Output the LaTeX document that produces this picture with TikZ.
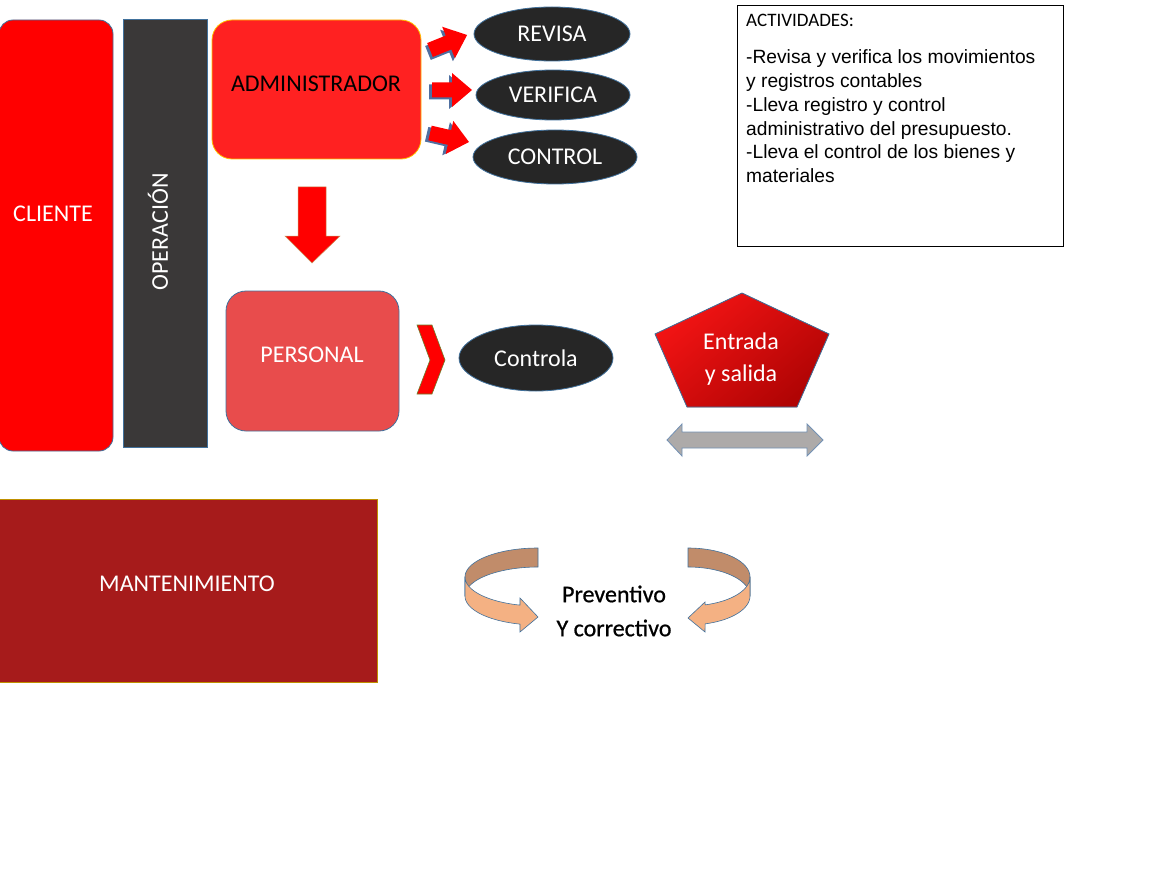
\documentclass[tikz,border=0pt]{standalone}
\usepackage{fontspec}
\setmainfont{Carlito}
\newfontfamily\arialf{Liberation Sans}
\newfontfamily\shadowf[FakeBold=0.8]{Carlito}
\usetikzlibrary{shapes.geometric}
\definecolor{pured}{HTML}{FF0000}
\definecolor{opgray}{HTML}{3A3838}
\definecolor{adminred}{HTML}{FF2121}
\definecolor{adminedge}{HTML}{FFC000}
\definecolor{ellfill}{HTML}{262626}
\definecolor{edgeblue}{HTML}{41719C}
\definecolor{persred}{HTML}{E84C4C}
\definecolor{maroon}{HTML}{A61B1B}
\definecolor{mantedge}{HTML}{BF9000}
\definecolor{arrowgray}{HTML}{ADAAA9}
\definecolor{grayedge}{HTML}{7391B5}
\definecolor{darkband}{HTML}{C18C6A}
\definecolor{lightband}{HTML}{F4B183}
\definecolor{penttop}{HTML}{F41414}
\definecolor{pentbot}{HTML}{B00404}
\definecolor{shadowblue}{HTML}{4F6FA0}
\definecolor{chevedge}{HTML}{6B7F2A}
\definecolor{downedge}{HTML}{C8905A}
\begin{document}
\begin{tikzpicture}[x=1pt,y=-1pt,
  txt/.style={font=\fontsize{24}{29}\selectfont, inner sep=0pt},
  wtxt/.style={txt, text=white},
  boxnode/.style={inner sep=0pt, line width=0.8pt},
  ellnode/.style={ellipse, draw=edgeblue, fill=ellfill, line width=0.8pt, inner sep=0pt, text=white, font=\fontsize{24}{29}\selectfont},
  smallarrow/.pic={
    \fill[shadowblue] (-3,-5.5)--(17,-5.5)--(17,-15)--(37,2)--(17,19)--(17,9.5)--(-3,9.5)--cycle;
    \fill[pured] (0,-7.5)--(20,-7.5)--(20,-17)--(40,0)--(20,17)--(20,7.5)--(0,7.5)--cycle;
  }]
\useasboundingbox (0,0) rectangle (1161,896);
\fill[white] (0,0) rectangle (1161,896);

% CLIENTE
\node[boxnode, draw=edgeblue, fill=pured, rounded corners=14pt, minimum width=114pt, minimum height=431pt] (cliente) at (56,235.5) {};
\node[wtxt] (clientet) at (53,214) {CLIENTE};

% OPERACION
\node[boxnode, draw=edgeblue, fill=opgray, minimum width=84pt, minimum height=428pt] (operacion) at (165,233) {};
\node[wtxt, rotate=90] (operaciont) at (158,232) {OPERACIÓN};

% ADMINISTRADOR
\node[boxnode, draw=adminedge, fill=adminred, rounded corners=20pt, minimum width=209pt, minimum height=139pt] (admin) at (316.5,89.5) {};
\node[txt] (admint) at (316,84) {ADMINISTRADOR};

% small arrows
\pic[rotate=22] at (430,50) {smallarrow};
\pic at (432,90) {smallarrow};
\pic[rotate=-13] at (430,133) {smallarrow};

% ellipses
\node[ellnode, minimum width=156pt, minimum height=54pt] (revisa) at (552,34) {REVISA};
\node[ellnode, minimum width=154pt, minimum height=50pt] (verifica) at (553,95) {VERIFICA};
\node[ellnode, minimum width=164pt, minimum height=54pt] (control) at (555,157) {CONTROL};

% down arrow
\filldraw[fill=pured, draw=downedge, line width=0.5pt] (298,187)--(326,187)--(326,236)--(340,236)--(312,263)--(285,236)--(298,236)--cycle;

% PERSONAL
\node[boxnode, draw=edgeblue, fill=persred, rounded corners=20pt, minimum width=173pt, minimum height=140pt] (personal) at (312.5,361) {};
\node[wtxt] (personalt) at (312,355) {PERSONAL};

% chevron
\filldraw[fill=pured, draw=chevedge, line width=0.6pt] (417,325)--(432,325)--(445,360)--(432,394)--(417,394)--(430,360)--cycle;

% Controla
\node[ellnode, minimum width=154pt, minimum height=66pt] (controla) at (536,358) {Controla};

% pentagon
\filldraw[draw=edgeblue, line width=0.8pt, top color=penttop, bottom color=pentbot, shading angle=40]
  (742,293)--(829,334)--(797,407)--(687,407)--(655,334)--cycle;
\node[wtxt, align=center, font=\fontsize{24}{32}\selectfont] (entrada) at (741,359) {Entrada\\y salida};

% gray double arrow
\filldraw[fill=arrowgray, draw=grayedge, line width=0.8pt]
  (667,440)--(682,424)--(682,432)--(807,432)--(807,424)--(823,440)--(807,456)--(807,448)--(682,448)--(682,456)--cycle;

% ACTIVIDADES box
\node[draw=black, line width=0.8pt, inner sep=0pt, minimum width=326pt, minimum height=241pt] (actbox) at (900,125.5) {};
\node[anchor=west, inner sep=0pt, font=\fontsize{19}{23}\selectfont] (acttitle) at (746,20) {ACTIVIDADES:};
\node[anchor=north west, inner sep=0pt, align=left, font=\arialf\fontsize{19.2}{23.8}\selectfont] (acttext) at (746,49.5)
  {-Revisa y verifica los movimientos\\y registros contables\\-Lleva registro y control\\administrativo del presupuesto.\\-Lleva el control de los bienes y\\materiales};

% MANTENIMIENTO
\node[boxnode, draw=mantedge, fill=maroon, minimum width=378pt, minimum height=183pt] (mant) at (188,590.5) {};
\node[wtxt] (mantt) at (187,584) {MANTENIMIENTO};

% curved arrows (left)
\filldraw[fill=darkband, draw=edgeblue, line width=0.6pt]
  plot[domain=270:180, samples=40] ({538+73*cos(\x)},{577+29*sin(\x)})
  -- plot[domain=180:270, samples=40] ({538+73*cos(\x)},{596+29*sin(\x)}) -- cycle;
\filldraw[fill=lightband, draw=edgeblue, line width=0.6pt]
  plot[domain=180:104.3, samples=40] ({538+73*cos(\x)},{577+29*sin(\x)})
  -- (520,598) -- (538,617) -- (520,632)
  -- plot[domain=104.3:180, samples=40] ({538+73*cos(\x)},{596+29*sin(\x)}) -- cycle;
% curved arrows (right)
\filldraw[fill=darkband, draw=edgeblue, line width=0.6pt]
  plot[domain=-90:0, samples=40] ({688+62*cos(\x)},{577+29*sin(\x)})
  -- plot[domain=0:-90, samples=40] ({688+62*cos(\x)},{596+29*sin(\x)}) -- cycle;
\filldraw[fill=lightband, draw=edgeblue, line width=0.6pt]
  plot[domain=0:74, samples=40] ({688+62*cos(\x)},{577+29*sin(\x)})
  -- (705,602) -- (688,618) -- (705,632)
  -- plot[domain=74:0, samples=40] ({688+62*cos(\x)},{596+29*sin(\x)}) -- cycle;

\node[txt, align=center, font=\shadowf\fontsize{24}{34}\selectfont] (prev) at (614,611) {Preventivo\\Y correctivo};
\end{tikzpicture}
\end{document}
